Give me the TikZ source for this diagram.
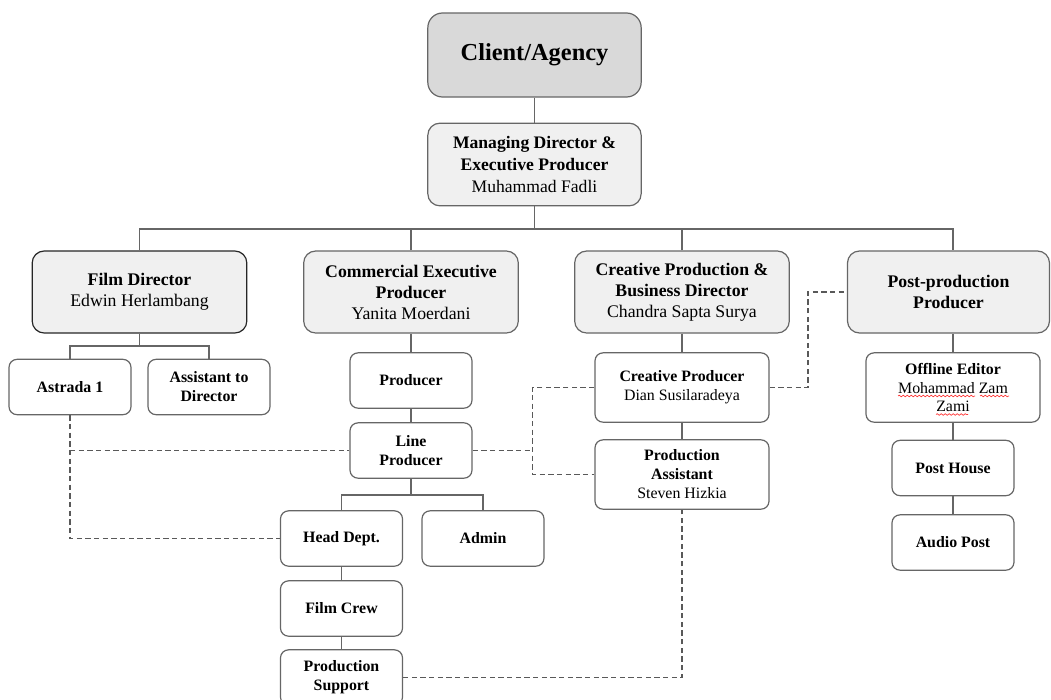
\documentclass[tikz,border=0pt]{standalone}
\usepackage{fontspec}
\setmainfont{Liberation Serif}
\usetikzlibrary{positioning,decorations.pathmorphing}

\begin{document}
\begin{tikzpicture}[x=0.75pt,y=-0.75pt,
linecol/.style={draw=black!60,line width=0.9pt},
box/.style={linecol,rounded corners=6pt,align=center,inner sep=2pt},
topbox/.style={box,fill=black!15,minimum width=160pt,minimum height=63pt,rounded corners=11pt,font=\fontsize{18.3}{22}\selectfont\bfseries},
mdbox/.style={box,fill=black!6,minimum width=160pt,minimum height=62pt,rounded corners=9pt,font=\fontsize{13.2}{16.2}\selectfont},
headbox/.style={box,fill=black!6,minimum width=161pt,minimum height=61.5pt,rounded corners=9pt,font=\fontsize{13.3}{15.8}\selectfont},
subbox/.style={box,fill=white,minimum width=91.5pt,minimum height=41.5pt,font=\fontsize{11.9}{14.2}\selectfont},
widebox/.style={subbox,minimum width=130.5pt,minimum height=52pt},
link/.style={linecol},
dashlink/.style={linecol,draw=black!65,dash pattern=on 4pt off 2.5pt},
squiggle/.style={draw=red!80,line width=0.5pt,decorate,decoration={snake,amplitude=0.6pt,segment length=3pt}}]
\useasboundingbox (0,0) rectangle (1051,700);
\node (CA) at (534.5,55)[topbox] {Client/Agency};
\node (MD) at (534.5,164.5)[mdbox] {\textbf{Managing Director \&}\\\textbf{Executive Producer}\\Muhammad Fadli};
\node (FD) at (139.5,292)[headbox,draw=black!85] {\textbf{Film Director}\\Edwin Herlambang};
\node (CEP) at (411,292)[headbox] {\textbf{Commercial Executive}\\\textbf{Producer}\\Yanita Moerdani};
\node (CPB) at (682,292)[headbox] {\textbf{Creative Production \&}\\\textbf{Business Director}\\Chandra Sapta Surya};
\node (PPP) at (948.5,292)[headbox,minimum width=151.5pt] {\textbf{Post-production}\\\textbf{Producer}};
\node (A1) at (70,387)[subbox] {\textbf{Astrada 1}};
\node (AD) at (209,387)[subbox] {\textbf{Assistant to}\\\textbf{Director}};
\node (PR) at (411,380.5)[subbox] {\textbf{Producer}};
\node (LP) at (411,450.5)[subbox] {\textbf{Line}\\\textbf{Producer}};
\node (HD) at (341.5,538.5)[subbox] {\textbf{Head Dept.}};
\node (AM) at (483,538.5)[subbox] {\textbf{Admin}};
\node (FC) at (341.5,608.5)[subbox] {\textbf{Film Crew}};
\node (PS) at (341.5,677.5)[subbox] {\textbf{Production}\\\textbf{Support}};
\node (CP) at (682,387.5)[widebox] {\textbf{Creative Producer}\\Dian Susilaradeya};
\node (PA) at (682,474.5)[widebox] {\textbf{Production}\\\textbf{Assistant}\\Steven Hizkia};
\node (OE) at (953,387.5)[widebox] {\textbf{Offline Editor}\\Mohammad Zam\\Zami};
\node (PH) at (953,468)[subbox] {\textbf{Post House}};
\node (AP) at (953,542.5)[subbox] {\textbf{Audio Post}};
\coordinate (mbus) at (534.5,229);
\coordinate (fbus) at (139.5,346);
\coordinate (lbus) at (411,495);
\coordinate (lpj) at (532.5,450.5);
\coordinate (ppj) at (808,387.5);
\draw[link] (CA) -- (MD);
\draw[link] (MD.south) -- (mbus);
\draw[link] (FD.north) |- (mbus) -| (OE.north |- PPP.north);
\draw[link] (CEP.north) -- (CEP.north |- mbus);
\draw[link] (CPB.north) -- (CPB.north |- mbus);
\draw[link] (FD.south) -- (fbus);
\draw[link] (A1.north) |- (fbus) -| (AD.north);
\draw[link] (CEP) -- (PR);
\draw[link] (PR) -- (LP);
\draw[link] (LP.south) -- (lbus);
\draw[link] (HD.north) |- (lbus) -| (AM.north);
\draw[link] (HD) -- (FC);
\draw[link] (FC) -- (PS);
\draw[link] (CPB) -- (CP);
\draw[link] (CP) -- (PA);
\draw[link] (OE.north |- PPP.south) -- (OE.north);
\draw[link] (OE) -- (PH);
\draw[link] (PH) -- (AP);
\draw[dashlink] (A1.south) |- (HD.west);
\draw[dashlink] (A1.south |- LP.west) -- (LP.west);
\draw[dashlink] (LP.east) -- (lpj);
\draw[dashlink] (CP.west) -| (lpj) |- (PA.west);
\draw[dashlink] (CP.east) -- (ppj) |- (PPP.west);
\draw[dashlink] (PS.east) -| (PA.south);
\draw[squiggle] (898,396) -- (975,396);
\draw[squiggle] (980,396) -- (1009,396);
\draw[squiggle] (936,414.5) -- (968,414.5);
\end{tikzpicture}
\end{document}
